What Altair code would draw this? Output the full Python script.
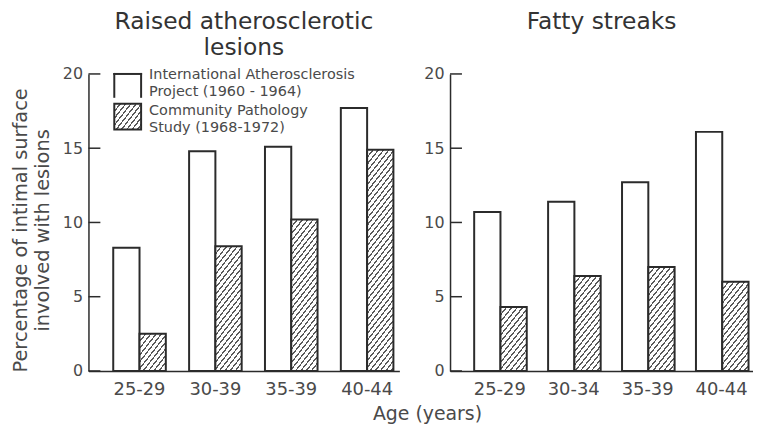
import math
import altair as alt

# ---- data ----
raised_ages = ["25-29", "30-39", "35-39", "40-44"]
fatty_ages = ["25-29", "30-34", "35-39", "40-44"]
raised_iap = [8.3, 14.8, 15.1, 17.7]
raised_cps = [2.5, 8.4, 10.2, 14.9]
fatty_iap = [10.7, 11.4, 12.7, 16.1]
fatty_cps = [4.3, 6.4, 7.0, 6.0]
series_keys = ["IAP", "CPS"]
series_labels = [["International Atherosclerosis", "Project  (1960 - 1964)"],
                 ["Community Pathology", "Study  (1968-1972)"]]
y_ticks = [0, 5, 10, 15, 20]
panel_titles = [["Raised atherosclerotic", "lesions"], ["Fatty streaks", " "]]
y_title = ["Percentage of intimal surface", "involved with lesions"]
x_title = "Age  (years)"

# ---- layout / style ----
PLOT_H = 299
Y_MAX = 20
LEFT_W = 313
RIGHT_W = 305
P_INNER = 0.307
P_OUTER = 0.2026
ALIGN = 0.806
INK = "#2b2b2b"
TEXT = "#4a4a4a"
HATCH = "#5a5a5a"
FONT = "DejaVu Sans"


def hatch(w, h, period=4.2, frac=0.3, angle=52):
    """Linear gradient with hard stops that draws '///' hatching in a w x h box."""
    th = math.radians(angle)
    s, c = math.sin(th), math.cos(th)
    k = (c * h) / (s * w)
    a = (1 + k) / (1 + k * k)
    b = k * a
    n = (w * s + h * c) / period
    stops = [{"offset": 0, "color": "white"}]
    i = 0
    while i / n < 1:
        o0 = round(i / n, 5)
        o1 = round(min((i + frac) / n, 1), 5)
        stops += [{"offset": o0, "color": "white"}, {"offset": o0, "color": HATCH},
                  {"offset": o1, "color": HATCH}, {"offset": o1, "color": "white"}]
        i += 1
    stops.append({"offset": 1, "color": "white"})
    return {"gradient": "linear", "x1": 0, "y1": 0, "x2": round(a, 5), "y2": round(b, 5), "stops": stops}


def y_axis(title):
    kw = dict(values=y_ticks, ticks=False, tickSize=0, grid=False, labelFontSize=16,
              labelColor=TEXT, labelPadding=6, domainColor=INK, domainWidth=1.5,
              labelFont=FONT)
    if title is not None:
        kw.update(title=title, titleFontSize=19.5, titleFontWeight="normal", titleColor=TEXT,
                  titlePadding=10, titleLineHeight=22, titleFont=FONT, titleY=157)
    else:
        kw.update(title=None)
    return alt.Axis(**kw)


def panel(ages, iap, cps, title, width, ytitle, legend):
    step = width / (len(ages) - P_INNER + 2 * P_OUTER)
    bar_w = step * (1 - P_INNER) / 2
    rows = []
    for age, v1, v2 in zip(ages, iap, cps):
        rows.append({"age": age, "series": series_keys[0], "value": v1, "fill": "white"})
        rows.append({"age": age, "series": series_keys[1], "value": v2,
                     "fill": hatch(bar_w, v2 * PLOT_H / Y_MAX)})
    yscale = alt.Scale(domain=[0, Y_MAX], nice=False)
    bars = alt.Chart(alt.Data(values=rows)).mark_bar(stroke=INK, strokeWidth=2).encode(
        x=alt.X("age:N", sort=ages,
                scale=alt.Scale(paddingInner=P_INNER, paddingOuter=P_OUTER, align=ALIGN),
                axis=alt.Axis(title=None, ticks=False, tickSize=0, grid=False, labelAngle=0,
                              labelFontSize=18, labelColor=TEXT, labelPadding=10,
                              domainColor=INK, domainWidth=1.5, labelFont=FONT)),
        xOffset=alt.XOffset("series:N", sort=series_keys,
                            scale=alt.Scale(paddingInner=0, paddingOuter=0)),
        y=alt.Y("value:Q", scale=yscale, axis=y_axis(ytitle)),
        fill=alt.Fill("fill:N", scale=None),
    )
    ticks = alt.Chart(alt.Data(values=[{"value": t} for t in y_ticks])).mark_rule(
        color=INK, strokeWidth=1.5).encode(
        y=alt.Y("value:Q", scale=yscale, axis=y_axis(ytitle)),
        x=alt.value(0), x2=alt.value(12),
    )
    layers = [bars, ticks]
    if legend:
        one = alt.Data(values=[{"s": series_keys[0]}])
        two = alt.Data(values=[{"s": series_keys[1]}])
        box1 = alt.Chart(one).mark_rect(fill="white").encode(
            x=alt.value(26), x2=alt.value(53), y=alt.value(0), y2=alt.value(24))
        side_l = alt.Chart(one).mark_rule(color=INK, strokeWidth=2).encode(
            x=alt.value(26), y=alt.value(-1), y2=alt.value(24))
        side_r = alt.Chart(one).mark_rule(color=INK, strokeWidth=2).encode(
            x=alt.value(53), y=alt.value(-1), y2=alt.value(24))
        side_t = alt.Chart(one).mark_rule(color=INK, strokeWidth=2).encode(
            x=alt.value(25), x2=alt.value(54), y=alt.value(0))
        box2 = alt.Chart(two).mark_rect(
            fill=hatch(27, 26), stroke=INK, strokeWidth=2).encode(
            x=alt.value(26), x2=alt.value(53), y=alt.value(30), y2=alt.value(56))
        t1 = alt.Chart(one).mark_text(
            align="left", baseline="top", fontSize=14.5, lineHeight=17.5, color=TEXT, font=FONT).encode(
            x=alt.value(61), y=alt.value(-6), text=alt.value(series_labels[0]))
        t2 = alt.Chart(two).mark_text(
            align="left", baseline="top", fontSize=14.5, lineHeight=17, color=TEXT, font=FONT).encode(
            x=alt.value(61), y=alt.value(30), text=alt.value(series_labels[1]))
        layers += [box1, side_l, side_r, side_t, box2, t1, t2]
    return alt.layer(*layers).properties(
        width=width, height=PLOT_H,
        title=alt.TitleParams(text=title, fontSize=23.5, fontWeight="normal", color="#333333",
                              anchor="middle", lineHeight=26, offset=7, font=FONT),
    )


left = panel(raised_ages, raised_iap, raised_cps, panel_titles[0], LEFT_W, y_title, True)
right = panel(fatty_ages, fatty_iap, fatty_cps, panel_titles[1], RIGHT_W, None, False)

chart = alt.hconcat(left, right, spacing=24).properties(
    title=alt.TitleParams(text=x_title, orient="bottom", anchor="middle", fontSize=19,
                          fontWeight="normal", color=TEXT, font=FONT, dx=46, offset=6),
    padding={"left": 2, "top": 0, "right": 0, "bottom": 0},
).configure(font=FONT).configure_view(strokeWidth=0, stroke="transparent")

chart.save("out.html", embed_options={"renderer": "svg", "actions": False})
